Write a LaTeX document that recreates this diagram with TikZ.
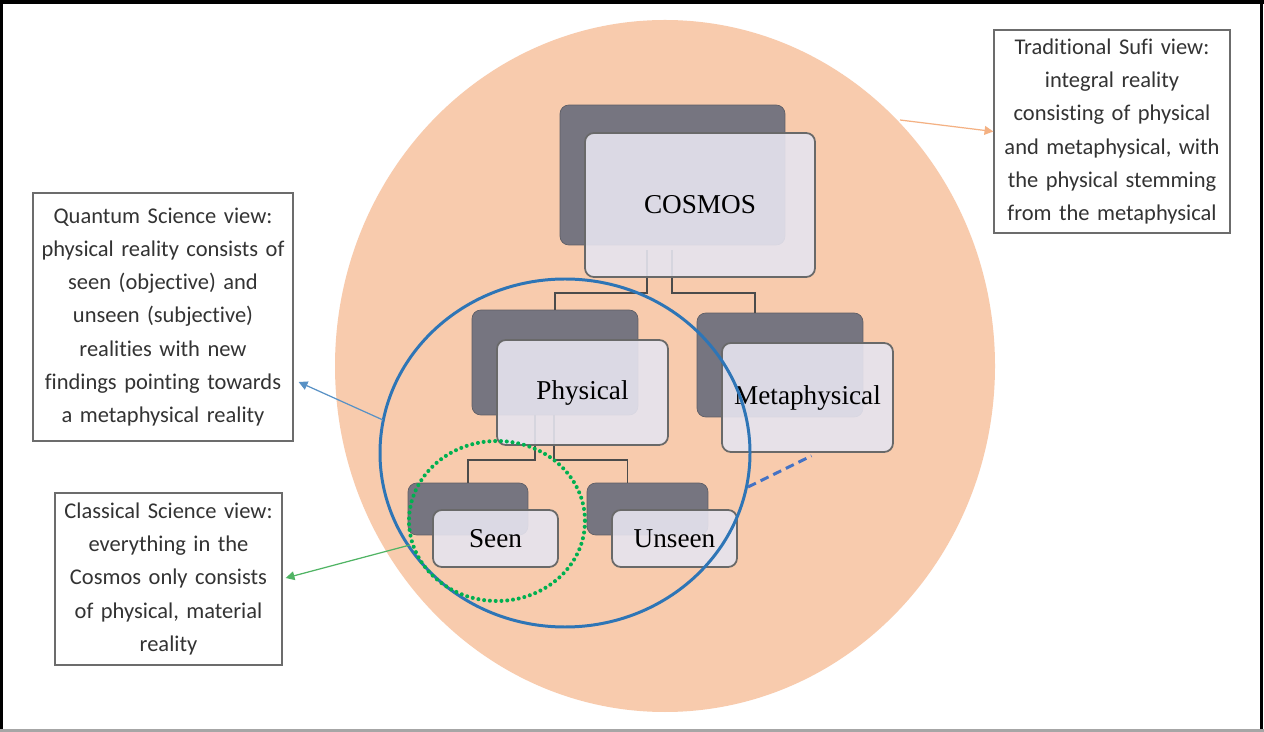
\documentclass[tikz,border=0pt]{standalone}
\usepackage{fontspec}
\setmainfont{Liberation Serif}
\newfontfamily\calib[RawFeature={-liga;-dlig}]{Carlito}
\usetikzlibrary{calc,arrows.meta}
\definecolor{peach}{RGB}{248,203,173}
\definecolor{shadowgray}{RGB}{118,117,128}
\definecolor{frontfill}{RGB}{230,228,239}
\definecolor{boxedge}{RGB}{105,105,105}
\definecolor{circblue}{RGB}{46,117,182}
\definecolor{dashblue}{RGB}{68,114,196}
\definecolor{dotgreen}{RGB}{0,176,80}
\definecolor{arrgreen}{RGB}{80,180,100}
\definecolor{arrorange}{RGB}{244,177,131}
\definecolor{conncol}{RGB}{75,75,75}
\tikzset{
  backbox/.style={fill=shadowgray, draw=shadowgray!80!black, line width=0.4pt, rounded corners=5pt, inner sep=0pt},
  frontbox/.style={fill=frontfill, fill opacity=0.9, text opacity=1, draw=boxedge, line width=1pt, rounded corners=5pt, inner sep=0pt, font=\fontsize{15.5}{18}\selectfont},
  callout/.style={draw=gray!85!black, line width=0.8pt, fill=white, align=center, inner sep=0pt, font=\calib\fontsize{12.8}{18.9}\selectfont, text=black!80},
  conn/.style={draw=conncol, line width=1pt},
}
\begin{document}
\begin{tikzpicture}[x=0.02cm,y=-0.02cm]
\useasboundingbox (0,0) rectangle (1264,732);
\fill[white] (0,0) rectangle (1264,732);
% frame
\draw[black, line width=2.3pt] (0,2) -- (1264,2);
\draw[black, line width=1.7pt] (1.5,0) -- (1.5,732);
\draw[black, line width=1.7pt] (1261,0) -- (1261,732);
\draw[gray!70, line width=1.2pt] (0,730.5) -- (1264,730.5);
% big peach ellipse
\fill[peach] (665,366) ellipse [x radius=330, y radius=346];
% back boxes
\node[backbox, minimum width=4.5cm, minimum height=2.8cm] (cosmosback) at (672.5,175) {};
\node[backbox, minimum width=3.32cm, minimum height=2.1cm] (physback) at (555,362.5) {};
\node[backbox, minimum width=3.32cm, minimum height=2.08cm] (metaback) at (780,365) {};
\node[backbox, minimum width=2.4cm, minimum height=1.04cm] (seenback) at (468,509) {};
\node[backbox, minimum width=2.42cm, minimum height=1.04cm] (unseenback) at (647.5,509) {};
% connectors
\draw[conn] ($(cosmosback.south)+(-25.5,5)$) |- ($(physback.north)+(0,-17)$) -- (physback.north);
\draw[conn] ($(cosmosback.south)+(-0.5,5)$) |- ($(metaback.north)+(-25,-20)$) -- ($(metaback.north)+(-25,0)$);
\draw[conn] ($(physback.south)+(-20,0)$) |- ($(seenback.north)+(0,-23)$) -- (seenback.north);
\draw[conn] ($(physback.south)+(-1,0)$) |- ($(unseenback.north)+(-20,-23)$) -- ($(unseenback.north)+(-20,0)$);
% front boxes
\node[frontbox, minimum width=4.6cm, minimum height=2.88cm] (cosmos) at (700,205) {COSMOS};
\node[frontbox, minimum width=3.42cm, minimum height=2.1cm] (phys) at (582.5,392.5) {Physical};
\node[frontbox, minimum width=3.42cm, minimum height=2.18cm] (meta) at (807.5,397.5) {Metaphysical};
\node[frontbox, minimum width=2.5cm, minimum height=1.14cm] (seen) at (495.5,538.5) {Seen};
\node[frontbox, minimum width=2.5cm, minimum height=1.14cm] (unseen) at (674.5,538.5) {Unseen};
% circles
\draw[circblue, line width=1.7pt] (565,453) ellipse [x radius=185, y radius=174];
\draw[dotgreen, line width=2.3pt, line cap=round, dash pattern=on 0pt off 3.3pt] (497,521) ellipse [x radius=88, y radius=80];
% dashed link
\coordinate (bc) at (748,487);
\draw[dashblue, line width=1.7pt, dash pattern=on 5pt off 3pt] (bc) -- ($(meta.south)+(4,3)$);
% callouts
\node[callout, minimum width=5.2cm, minimum height=4.96cm, text width=5cm] (quantum) at (163,317)
 {Quantum Science view:\\ physical reality consists of\\ seen (objective) and\\ unseen (subjective)\\ realities with new\\ findings pointing towards\\ a metaphysical reality};
\node[callout, minimum width=4.54cm, minimum height=3.44cm, text width=4.4cm] (classical) at (168.5,579)
 {Classical Science view:\\ everything in the\\ Cosmos only consists\\ of physical, material\\ reality};
\node[callout, minimum width=4.72cm, minimum height=4.06cm, text width=4.6cm] (sufi) at (1112,131.5)
 {Traditional Sufi view:\\ integral reality\\ consisting of physical\\ and metaphysical, with\\ the physical stemming\\ from the metaphysical};
% arrows
\coordinate (qa) at (383,420);
\draw[circblue!80, line width=0.7pt, -{Triangle[length=5pt,width=5pt]}] (qa) -- ($(quantum.east)+(5,65)$);
\coordinate (ca) at (410,545);
\draw[arrgreen, line width=0.7pt, -{Triangle[length=5pt,width=5pt]}] (ca) -- ($(classical.east)+(3,-1)$);
\coordinate (sa) at (900,120);
\draw[arrorange, line width=0.7pt, -{Triangle[length=5pt,width=5pt]}] (sa) -- (sufi.west);
\end{tikzpicture}
\end{document}
